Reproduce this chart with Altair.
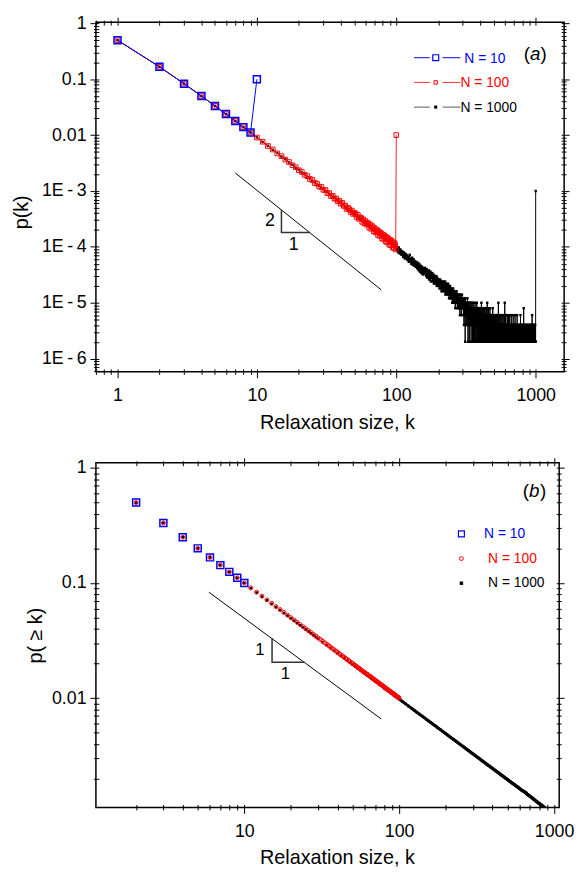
import altair as alt
import pandas as pd

FONT = "Liberation Sans"

# ---------------- panel (a): p(k) ----------------
k10 = list(range(1, 11))
p10 = [0.5, 0.167, 0.0833, 0.05, 0.0333, 0.0238, 0.0179, 0.0139, 0.0111, 0.1]

k100 = list(range(1, 101))
p100 = [0.5, 0.167, 0.0833, 0.05, 0.0333, 0.0238, 0.0179, 0.0139, 0.0111,
         0.00905, 0.00762, 0.00638, 0.00553, 0.00471, 0.00420, 0.00365, 0.00330, 0.00289, 0.00266,
         0.00235, 0.00219, 0.00195, 0.00184, 0.00164, 0.00157, 0.00139, 0.00135, 0.00120, 0.00118,
         0.00105, 0.00104, 0.000920, 0.000915, 0.000815, 0.000820, 0.000730, 0.000735, 0.000655, 0.000665,
         0.000590, 0.000612, 0.000541, 0.000548, 0.000478, 0.000502, 0.000471, 0.000421, 0.000446, 0.000389,
         0.000407, 0.000395, 0.000341, 0.000372, 0.000318, 0.000336, 0.000327, 0.000281, 0.000309, 0.000266,
         0.000290, 0.000251, 0.000271, 0.000262, 0.000221, 0.000249, 0.000211, 0.000235, 0.000224, 0.000190,
         0.000215, 0.000182, 0.000203, 0.000196, 0.000163, 0.000189, 0.000158, 0.000179, 0.000171, 0.000141,
         0.000166, 0.000139, 0.000160, 0.000152, 0.000125, 0.000149, 0.000122, 0.000144, 0.000136, 0.000110,
         0.000134, 0.000108, 0.000129, 0.000121, 0.000098, 0.000121, 0.000096, 0.000116, 0.000109, 0.000090,
         0.01]

k1000_head = list(range(1, 100))
p1000_head = [0.5, 0.167, 0.0833, 0.05, 0.0333, 0.0238, 0.0179, 0.0139, 0.0111,
              0.00911, 0.00755, 0.00644, 0.00546, 0.00478, 0.00414, 0.00370, 0.00325, 0.00294, 0.00261,
              0.00240, 0.00214, 0.00199, 0.00180, 0.00168, 0.00152, 0.00143, 0.00130, 0.00124, 0.00113,
              0.00109, 0.000995, 0.000955, 0.000880, 0.000848, 0.000785, 0.000758, 0.000702, 0.000682, 0.000632,
              0.000616, 0.000573, 0.000560, 0.000520, 0.000512, 0.000474, 0.000470, 0.000434, 0.000432, 0.000398,
              0.000398, 0.000366, 0.000370, 0.000338, 0.000344, 0.000314, 0.000320, 0.000292, 0.000298, 0.000272,
              0.000280, 0.000254, 0.000262, 0.000238, 0.000246, 0.000224, 0.000232, 0.000210, 0.000218, 0.000198,
              0.000206, 0.000186, 0.000196, 0.000176, 0.000186, 0.000166, 0.000178, 0.000158, 0.000168, 0.000150,
              0.000160, 0.000142, 0.000154, 0.000136, 0.000146, 0.000130, 0.000140, 0.000124, 0.000134, 0.000118,
              0.000128, 0.000114, 0.000122, 0.000108, 0.000118, 0.000104, 0.000112, 0.000100, 0.000108, 0.000096]

# N = 1000 tail, k = 100 ... 999, as event counts (one event = 2E-6); 0 = not drawn
n1000_tail = [
    52, 44, 47, 40, 49, 43, 38, 45, 41, 36, 42, 37, 33, 40, 35, 31, 38, 34, 36, 30,
    35, 29, 33, 27, 31, 36, 28, 30, 25, 29, 32, 24, 27, 30, 23, 28, 25, 26, 22, 27,
    24, 21, 26, 20, 23, 19, 25, 22, 18, 21, 23, 17, 20, 22, 19, 16, 21, 18, 20, 17,
    18, 21, 16, 19, 15, 20, 17, 14, 18, 16, 15, 19, 13, 17, 16, 14, 18, 12, 15, 16,
    14, 17, 12, 15, 13, 16, 11, 14, 13, 15, 12, 14, 11, 13, 15, 10, 12, 14, 11, 13,
    12, 10, 13, 11, 9, 12, 10, 13, 11, 9, 12, 8, 11, 10, 12, 9, 11, 8, 10, 12,
    9, 11, 8, 10, 12, 7, 9, 10, 8, 11, 9, 7, 10, 8, 9, 11, 7, 8, 10, 6,
    9, 7, 8, 10, 6, 8, 7, 9, 6, 8, 7, 9, 5, 8, 7, 6, 9, 7, 5, 8,
    7, 5, 8, 6, 7, 4, 8, 6, 5, 7, 6, 8, 5, 6, 4, 7, 6, 5, 7, 4,
    6, 5, 7, 4, 6, 5, 3, 6, 7, 5, 4, 6, 5, 3, 6, 4, 7, 5, 4, 6,
    5, 4, 6, 3, 5, 4, 2, 6, 5, 3, 4, 5, 1, 6, 4, 3, 5, 2, 4, 5,
    3, 5, 4, 2, 6, 3, 4, 1, 5, 3, 4, 2, 5, 3, 1, 4, 3, 5, 2, 4,
    3, 4, 2, 5, 1, 3, 4, 2, 3, 5, 2, 4, 1, 3, 4, 2, 5, 3, 1, 3,
    4, 2, 3, 1, 4, 3, 2, 5, 1, 3, 2, 4, 3, 1, 2, 4, 3, 2, 5, 1,
    3, 2, 4, 1, 3, 2, 3, 1, 4, 2, 3, 1, 2, 4, 2, 3, 1, 3, 2, 4,
    2, 3, 1, 4, 2, 3, 1, 2, 5, 2, 3, 1, 2, 3, 1, 4, 2, 2, 3, 1,
    2, 4, 1, 3, 2, 1, 3, 2, 4, 1, 2, 3, 1, 2, 4, 2, 1, 3, 2, 1,
    3, 2, 1, 2, 4, 1, 3, 2, 1, 5, 2, 1, 3, 2, 1, 2, 3, 1, 2, 4,
    1, 2, 3, 1, 2, 1, 3, 2, 1, 2, 4, 1, 2, 1, 3, 2, 1, 2, 3, 1,
    2, 1, 3, 1, 2, 2, 1, 3, 1, 2, 1, 2, 4, 1, 2, 1, 3, 1, 2, 1,
    2, 1, 3, 0, 2, 1, 2, 1, 0, 3, 1, 2, 1, 2, 0, 3, 1, 2, 1, 2,
    1, 3, 1, 0, 2, 1, 2, 1, 3, 1, 2, 0, 1, 2, 1, 3, 1, 0, 2, 1,
    5, 1, 2, 1, 0, 2, 1, 3, 1, 2, 1, 0, 2, 1, 2, 1, 3, 0, 1, 2,
    1, 2, 0, 1, 3, 1, 2, 1, 0, 2, 1, 1, 2, 0, 3, 1, 2, 1, 0, 1,
    2, 1, 0, 2, 1, 3, 1, 0, 2, 1, 1, 2, 0, 1, 2, 1, 0, 3, 1, 2,
    5, 1, 0, 2, 1, 1, 0, 2, 1, 3, 0, 1, 2, 1, 0, 1, 2, 1, 0, 2,
    1, 0, 2, 1, 1, 3, 0, 1, 2, 0, 1, 2, 1, 0, 1, 2, 0, 1, 3, 1,
    0, 1, 2, 1, 0, 1, 1, 2, 0, 1, 3, 1, 0, 2, 1, 0, 1, 2, 1, 0,
    1, 2, 0, 1, 1, 0, 2, 1, 3, 0, 1, 1, 0, 2, 1, 0, 1, 2, 0, 1,
    2, 0, 1, 1, 0, 2, 1, 0, 1, 3, 1, 0, 2, 1, 0, 1, 1, 0, 2, 1,
    0, 1, 2, 0, 1, 1, 0, 2, 1, 0, 1, 3, 0, 1, 0, 2, 1, 1, 0, 1,
    2, 0, 1, 0, 1, 2, 1, 0, 1, 0, 2, 1, 0, 1, 1, 0, 3, 0, 1, 2,
    0, 1, 1, 0, 2, 0, 1, 1, 0, 2, 1, 0, 1, 0, 2, 1, 0, 1, 1, 0,
    2, 1, 0, 1, 0, 1, 2, 0, 1, 0, 1, 1, 0, 2, 0, 1, 0, 1, 3, 0,
    1, 0, 1, 2, 0, 1, 0, 1, 1, 0, 2, 0, 1, 0, 1, 2, 0, 1, 0, 1,
    1, 0, 2, 0, 1, 0, 1, 1, 0, 2, 0, 1, 0, 1, 0, 2, 1, 0, 1, 0,
    4, 0, 1, 0, 2, 1, 0, 1, 0, 1, 2, 0, 1, 0, 1, 0, 1, 2, 0, 1,
    0, 1, 0, 2, 1, 0, 1, 0, 1, 1, 0, 2, 0, 1, 0, 1, 0, 1, 2, 0,
    1, 0, 1, 0, 1, 2, 0, 1, 0, 1, 0, 1, 1, 0, 2, 0, 1, 0, 1, 0,
    1, 2, 0, 1, 0, 1, 0, 1, 1, 0, 2, 0, 1, 0, 1, 0, 2, 1, 0, 1,
    0, 1, 0, 1, 2, 0, 1, 0, 1, 0, 1, 0, 2, 0, 1, 0, 1, 1, 0, 1,
    0, 2, 0, 1, 0, 1, 0, 1, 2, 0, 1, 0, 1, 0, 1, 1, 0, 2, 0, 1,
    0, 1, 0, 3, 1, 0, 1, 0, 1, 2, 0, 1, 0, 1, 0, 1, 2, 0, 1, 0,
    1, 0, 2, 0, 1, 0, 1, 0, 1, 1, 0, 2, 0, 1, 0, 1, 0, 2, 0, 1,
    0, 1, 0, 1, 2, 0, 1, 0, 1, 0, 1, 2, 0, 1, 0, 1, 0, 1, 1, 1,
]
k1000_tail = list(range(100, 100 + len(n1000_tail)))
P_PER_EVENT = 2e-6
k1000_last = [1000]
p1000_last = [0.001]

# guide line with slope -2 and its triangle, panel (a)
guideA_k = [7, 78]
guideA_p = [2.1e-3, 1.7e-5]
triA_k = [15, 15, 23.8]
triA_p = [4.6e-4, 1.8e-4, 1.8e-4]
labA_k = [12.4, 18.4]
labA_p = [2.85e-4, 1.08e-4]
labA_t = ["2", "1"]

# ---------------- panel (b): p(>=k) ----------------
kc10 = list(range(2, 11))
pc10 = [0.5, 0.333, 0.25, 0.2, 0.167, 0.143, 0.125, 0.111, 0.1]

kc100 = list(range(2, 101))
pc100 = [0.5, 0.333, 0.25, 0.2, 0.167, 0.143, 0.125, 0.111, 0.1,
         0.0909, 0.0833, 0.0769, 0.0714, 0.0667, 0.0625, 0.0588, 0.0556, 0.0526, 0.05,
         0.0476, 0.0455, 0.0435, 0.0417, 0.04, 0.0385, 0.037, 0.0357, 0.0345, 0.0333,
         0.0323, 0.0313, 0.0303, 0.0294, 0.0286, 0.0278, 0.027, 0.0263, 0.0256, 0.025,
         0.0244, 0.0238, 0.0233, 0.0227, 0.0222, 0.0217, 0.0213, 0.0208, 0.0204, 0.02,
         0.0196, 0.0192, 0.0189, 0.0185, 0.0182, 0.0179, 0.0175, 0.0172, 0.0169, 0.0167,
         0.0164, 0.0161, 0.0159, 0.0156, 0.0154, 0.0152, 0.0149, 0.0147, 0.0145, 0.0143,
         0.0141, 0.0139, 0.0137, 0.0135, 0.0133, 0.0132, 0.013, 0.0128, 0.0127, 0.0125,
         0.0123, 0.0122, 0.012, 0.0119, 0.0118, 0.0116, 0.0115, 0.0114, 0.0112, 0.0111,
         0.011, 0.0109, 0.0108, 0.0106, 0.0105, 0.0104, 0.0103, 0.0102, 0.0101, 0.01]

kc1000 = list(range(2, 31)) + list(range(32, 101, 2)) + list(range(105, 1001, 5))
pc1000 = [0.5, 0.333, 0.25, 0.2, 0.167, 0.143, 0.125, 0.111, 0.1,
          0.0900, 0.0825, 0.0761, 0.0707, 0.0659, 0.0618, 0.0582, 0.0549, 0.0520, 0.0494,
          0.0470, 0.0449, 0.0429, 0.0411, 0.0394, 0.0379, 0.0365, 0.0352, 0.0339, 0.0328,
          0.0306, 0.0288, 0.0272, 0.0258, 0.0245, 0.0233, 0.0223, 0.0213, 0.0204, 0.0196,
          0.0188, 0.0181, 0.0175, 0.0169, 0.0163, 0.0158, 0.0153, 0.0148, 0.0144, 0.0140,
          0.0136, 0.0132, 0.0129, 0.0126, 0.0122, 0.0119, 0.0117, 0.0114, 0.0111, 0.0109,
          0.0106, 0.0104, 0.0102, 0.0100, 0.0098,
          0.00933, 0.00891, 0.00852, 0.00817, 0.00784, 0.00754, 0.00726, 0.00700, 0.00676, 0.00653,
          0.00632, 0.00613, 0.00594, 0.00577, 0.00560, 0.00544, 0.00530, 0.00516, 0.00503, 0.00490,
          0.00478, 0.00467, 0.00456, 0.00445, 0.00436, 0.00426, 0.00417, 0.00408, 0.00400, 0.00392,
          0.00384, 0.00377, 0.00370, 0.00363, 0.00356, 0.00350, 0.00344, 0.00338, 0.00332, 0.00327,
          0.00321, 0.00316, 0.00311, 0.00306, 0.00302, 0.00297, 0.00293, 0.00288, 0.00284, 0.00280,
          0.00276, 0.00272, 0.00268, 0.00265, 0.00261, 0.00258, 0.00255, 0.00251, 0.00248, 0.00245,
          0.00242, 0.00239, 0.00236, 0.00233, 0.00231, 0.00228, 0.00225, 0.00223, 0.00220, 0.00218,
          0.00215, 0.00213, 0.00211, 0.00209, 0.00206, 0.00204, 0.00202, 0.00200, 0.00198, 0.00196,
          0.00194, 0.00192, 0.00190, 0.00188, 0.00187, 0.00185, 0.00183, 0.00181, 0.00180, 0.00178,
          0.00177, 0.00175, 0.00173, 0.00172, 0.00170, 0.00169, 0.00168, 0.00166, 0.00165, 0.00163,
          0.00162, 0.00161, 0.00159, 0.00158, 0.00157, 0.00156, 0.00155, 0.00154, 0.00153, 0.00152,
          0.00151, 0.00150, 0.00148, 0.00146, 0.00145, 0.00144, 0.00143, 0.00142, 0.00141, 0.00140,
          0.00139, 0.00138, 0.00137, 0.00136, 0.00135, 0.00134, 0.00133, 0.00132, 0.00131, 0.00130,
          0.00129, 0.00128, 0.00127, 0.00127, 0.00126, 0.00125, 0.00124, 0.00123, 0.00122, 0.00122,
          0.00121, 0.00120, 0.00119, 0.00119, 0.00118, 0.00117, 0.00116, 0.00116, 0.00115, 0.00114,
          0.00113, 0.00113, 0.00112, 0.00111, 0.00111, 0.00110, 0.00109, 0.00109, 0.00108, 0.00107,
          0.00107, 0.00106, 0.00106, 0.00105, 0.00105, 0.00104, 0.00104, 0.00103, 0.00103, 0.00102,
          0.00102, 0.00101, 0.00101, 0.00100, 0.00100, 0.00099, 0.00099, 0.00099, 0.00098, 0.00100]

guideB_k = [5.9, 76.4]
guideB_p = [0.0832, 0.0066]
triB_k = [15.1, 15.1, 24.5]
triB_p = [0.0333, 0.0205, 0.0205]
labB_k = [12.6, 18.4]
labB_p = [0.0264, 0.0163]
labB_t = ["1", "1"]

# ---------------- axes helpers ----------------
def log_ticks(lo, hi):
    out = []
    for e in range(-8, 5):
        for m in range(1, 10):
            v = round(m * 10.0 ** e, 12)
            if lo <= v <= hi:
                out.append(v)
    return out

MAJOR = "abs(log(datum.value) / LN10 - round(log(datum.value) / LN10)) < 1e-6"
TICK = {"condition": {"test": MAJOR, "value": 9}, "value": 5.5}
TICK_M = {"condition": {"test": MAJOR, "value": 8}, "value": 5}
PLAIN_LABEL = f"{MAJOR} ? format(datum.value, '') : ''"
E_LABEL = (f"{MAJOR} ? (datum.value > 0.005 ? format(datum.value, '') : "
           "'1E\u2009-\u2009' + round(-log(datum.value) / LN10)) : ''")


def x_axis(values, title_x):
    return alt.Axis(values=values, title="Relaxation size, k", titleX=title_x,
                    labelExpr=PLAIN_LABEL, tickSize=TICK, offset=-3, grid=False,
                    domain=False, labelOverlap=False, labelFlush=False,
                    labelPadding=9, titlePadding=8)


def y_axis(values, title, label_expr, title_pad, title_y=None):
    kw = dict(values=values, title=title, labelExpr=label_expr, tickSize=TICK,
              offset=-3, grid=False, domain=False, labelOverlap=False,
              labelPadding=4, titlePadding=title_pad)
    if title_y is not None:
        kw["titleY"] = title_y
    return alt.Axis(**kw)


def mirror(values, orient):
    return alt.Axis(values=values, orient=orient, labels=False, title=None,
                    tickSize=TICK_M, offset=-3, grid=False, domain=False,
                    minExtent=0, maxExtent=6)


one = pd.DataFrame({"z": [0]})


def legend_line(x1, x2, y, color):
    return alt.Chart(one).mark_rule(color=color, strokeWidth=1).encode(
        x=alt.value(x1), x2=alt.value(x2), y=alt.value(y))


def legend_text(txt, x, y, color, size=14, style="normal"):
    return alt.Chart(one).mark_text(text=txt, align="left", baseline="middle",
                                    font=FONT, fontSize=size, color=color,
                                    fontStyle=style).encode(x=alt.value(x), y=alt.value(y))


def legend_mark(x, y, color, shape, size, filled, sw=1.0):
    return alt.Chart(one).mark_point(shape=shape, size=size, filled=filled, color=color,
                                     strokeWidth=sw, opacity=1).encode(
        x=alt.value(x), y=alt.value(y))


# ---------------- panel (a) ----------------
WA, HA = 474, 354
xA = alt.Scale(type="log", domain=[0.7, 1600], nice=False)
yA = alt.Scale(type="log", domain=[5.8e-7, 1.05], nice=False)
xA_ticks = log_ticks(0.7, 1600)
yA_ticks = log_ticks(5.8e-7, 1.05)

dfA_black = pd.DataFrame({
    "k": k1000_head + k1000_tail + k1000_last,
    "p": p1000_head + [n * P_PER_EVENT for n in n1000_tail] + p1000_last,
})
dfA_black = dfA_black[dfA_black["p"] > 0]
dfA_red = pd.DataFrame({"k": k100, "p": p100})
dfA_blue = pd.DataFrame({"k": k10, "p": p10})
dfA_guide = pd.DataFrame({"k": guideA_k, "p": guideA_p})
dfA_tri = pd.DataFrame({"k": triA_k, "p": triA_p, "i": [0, 1, 2]})
dfA_lab = pd.DataFrame({"k": labA_k, "p": labA_p, "t": labA_t})

XA = alt.X("k:Q", scale=xA, axis=None)
YA = alt.Y("p:Q", scale=yA, axis=None)

a_layers = [
    alt.Chart(dfA_black).mark_line(color="black", strokeWidth=1).encode(
        x=alt.X("k:Q", scale=xA, axis=x_axis(xA_ticks, 244)),
        y=alt.Y("p:Q", scale=yA, axis=y_axis(yA_ticks, "p(k)", E_LABEL, 10, 192))),
    alt.Chart(dfA_black).mark_point(shape="square", filled=True, size=6, color="black",
                                    opacity=1).encode(x=XA, y=YA),
    alt.Chart(dfA_red).mark_line(color="#ff2020", strokeWidth=1).encode(x=XA, y=YA),
    alt.Chart(dfA_red).mark_point(shape="square", filled=False, size=22, color="#ff0000",
                                  strokeWidth=1, opacity=1).encode(x=XA, y=YA),
    alt.Chart(dfA_blue).mark_line(color="#0000ff", strokeWidth=1).encode(x=XA, y=YA),
    alt.Chart(dfA_blue).mark_point(shape="square", filled=False, size=50, color="#0000ff",
                                   strokeWidth=1.5, opacity=1).encode(x=XA, y=YA),
    alt.Chart(dfA_guide).mark_line(color="black", strokeWidth=1).encode(x=XA, y=YA),
    alt.Chart(dfA_tri).mark_line(color="#333333", strokeWidth=1.5).encode(
        x=XA, y=YA, order="i:Q"),
    alt.Chart(dfA_lab).mark_text(font=FONT, fontSize=18, color="black").encode(
        x=XA, y=YA, text="t:N"),
    alt.Chart(dfA_blue).mark_point(opacity=0).encode(
        x=alt.X("k:Q", scale=xA, axis=mirror(xA_ticks, "top")),
        y=alt.Y("p:Q", scale=yA, axis=mirror(yA_ticks, "right"))),
    # legend
    legend_line(322, 338, 36, "#0000ff"), legend_line(351, 369, 36, "#0000ff"),
    legend_mark(344, 36, "#0000ff", "square", 36, False, 1.2),
    legend_text("N = 10", 373, 37, "#0000ff"),
    legend_line(322, 338, 61, "#ff3333"), legend_line(351, 369, 61, "#ff3333"),
    legend_mark(344, 61, "#ff0000", "square", 12, False, 1),
    legend_text("N = 100", 369, 62, "#ff0000"),
    legend_line(322, 338, 86, "#555555"), legend_line(351, 369, 86, "#555555"),
    legend_mark(344, 86, "black", "square", 10, True),
    legend_text("N = 1000", 369, 87, "black"),
    legend_text("(", 433, 32, "black", 19),
    legend_text("a", 439.5, 32, "black", 19, "italic"),
    legend_text(")", 450, 32, "black", 19),
]
panelA = alt.layer(*a_layers).resolve_axis(x="independent", y="independent").properties(
    width=WA, height=HA)

# ---------------- panel (b) ----------------
WB, HB = 469, 349
xB = alt.Scale(type="log", domain=[1.1, 1080], nice=False)
yB = alt.Scale(type="log", domain=[0.00112, 1.11], nice=False)
xB_ticks = log_ticks(1.1, 1080)
yB_ticks = log_ticks(0.00112, 1.11)

dfB_black = pd.DataFrame({"k": kc1000, "p": pc1000})
dfB_black_dense = dfB_black[dfB_black["k"] >= 100]   # markers merge into a solid band
dfB_red = pd.DataFrame({"k": kc100, "p": pc100})
dfB_blue = pd.DataFrame({"k": kc10, "p": pc10})
dfB_guide = pd.DataFrame({"k": guideB_k, "p": guideB_p})
dfB_tri = pd.DataFrame({"k": triB_k, "p": triB_p, "i": [0, 1, 2]})
dfB_lab = pd.DataFrame({"k": labB_k, "p": labB_p, "t": labB_t})

XB = alt.X("k:Q", scale=xB, axis=None)
YB = alt.Y("p:Q", scale=yB, axis=None)

b_layers = [
    alt.Chart(dfB_black).mark_point(shape="square", filled=True, size=7, color="black",
                                    opacity=1, clip=True).encode(
        x=alt.X("k:Q", scale=xB, axis=x_axis(xB_ticks, 244)),
        y=alt.Y("p:Q", scale=yB, axis=y_axis(yB_ticks, "p( \u2265 k)", PLAIN_LABEL, 6))),
    alt.Chart(dfB_black_dense).mark_line(color="black", strokeWidth=3, clip=True).encode(
        x=XB, y=YB),
    alt.Chart(dfB_red).mark_point(shape="circle", filled=False, size=16, color="#ff0000",
                                  strokeWidth=1, opacity=1).encode(x=XB, y=YB),
    alt.Chart(dfB_blue).mark_point(shape="square", filled=False, size=50, color="#0000ff",
                                   strokeWidth=1.5, opacity=1).encode(x=XB, y=YB),
    alt.Chart(dfB_guide).mark_line(color="black", strokeWidth=1).encode(x=XB, y=YB),
    alt.Chart(dfB_tri).mark_line(color="#333333", strokeWidth=1.5).encode(
        x=XB, y=YB, order="i:Q"),
    alt.Chart(dfB_lab).mark_text(font=FONT, fontSize=17, color="black").encode(
        x=XB, y=YB, text="t:N"),
    alt.Chart(dfB_blue).mark_point(opacity=0).encode(
        x=alt.X("k:Q", scale=xB, axis=mirror(xB_ticks, "top")),
        y=alt.Y("p:Q", scale=yB, axis=mirror(yB_ticks, "right"))),
    legend_mark(370, 72, "#0000ff", "square", 36, False, 1.2),
    legend_text("N = 10", 393, 72, "#0000ff"),
    legend_mark(370, 97, "#ff0000", "circle", 16, False, 1),
    legend_text("N = 100", 397, 97, "#ff0000"),
    legend_mark(370, 122, "black", "square", 12, True),
    legend_text("N = 1000", 397, 122, "black"),
    legend_text("(", 432, 29, "black", 19),
    legend_text("b", 438.5, 29, "black", 19, "italic"),
    legend_text(")", 449.5, 29, "black", 19),
]
panelB = alt.layer(*b_layers).resolve_axis(x="independent", y="independent").properties(
    width=WB, height=HB)

chart = alt.vconcat(panelA, panelB, spacing=92, bounds="flush",
                    padding={"left": 3, "top": 0, "right": 0, "bottom": 0}).configure_view(
    stroke="black", strokeWidth=1.5
).configure_axis(
    labelFont=FONT, labelFontSize=18, labelColor="black",
    titleFont=FONT, titleFontSize=20, titleFontWeight="normal", titleColor="black",
    tickColor="black", tickWidth=1
)

chart.save("out.html", embed_options={"renderer": "svg", "actions": False})
